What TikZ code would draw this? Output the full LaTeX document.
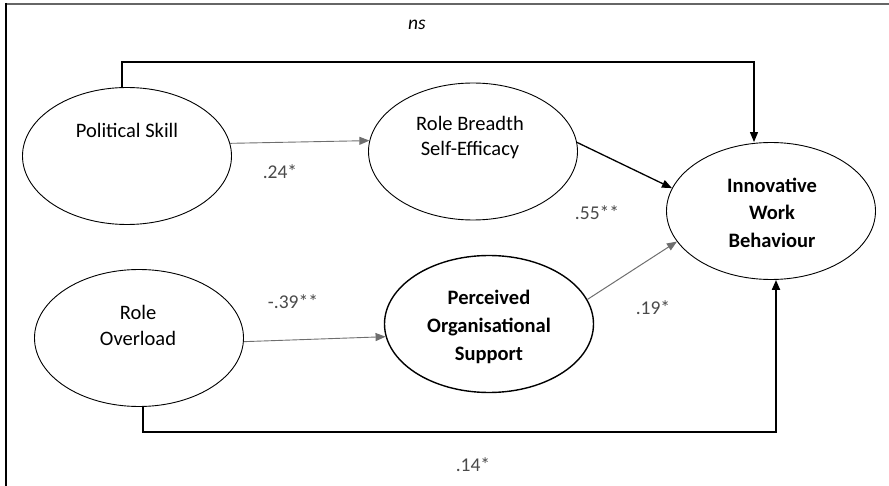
\documentclass[tikz,border=0pt]{standalone}
\usepackage{fontspec}
\setmainfont{Carlito}
\usetikzlibrary{arrows.meta,shapes.geometric}

\definecolor{framegray}{HTML}{666666}
\definecolor{coefgray}{HTML}{4A4A4A}
\definecolor{pathgray}{HTML}{6E6E6E}

\tikzset{
	latent/.style={ellipse,draw,line width=0.9pt,inner sep=0pt,
		minimum width=209pt,minimum height=137pt},
	txt/.style={align=center,font=\fontsize{20.5}{26}\selectfont},
	bold txt/.style={txt,font=\fontsize{20.5}{27.5}\selectfont\bfseries},
	coef/.style={text=coefgray,font=\fontsize{19.5}{22}\selectfont},
	tip/.style={-{Triangle[length=10pt,width=8pt]}},
	lightpath/.style={pathgray,line width=0.9pt},
	midpath/.style={pathgray,line width=1pt},
	strongpath/.style={line width=1.3pt},
	bar/.style={line width=2.8pt,line cap=rect}
}

\begin{document}
\begin{tikzpicture}[x=1pt,y=-1pt]
\useasboundingbox (0,0) rectangle (889,486);

% frame
\draw[framegray,line width=2.4pt] (5,4) -- (889,4);
\draw[line width=2pt] (6,3) -- (6,486);

% latent variables
\node[latent] (ps) at (127,156) {};
\node[latent] (rbse) at (473,151.5) {};
\node[latent] (ro) at (139,338) {};
\node[latent,line width=1.4pt] (pos) at (489,324) {};
\node[latent] (iwb) at (771,211) {};

\node[txt] (pst) at (127,130) {Political Skill};
\node[txt,font=\fontsize{20.5}{25}\selectfont] (rbset) at (470,137.5) {Role Breadth\\Self-Efficacy};
\node[txt] (rot) at (138,325) {Role\\Overload};
\node[bold txt,font=\fontsize{20.5}{28}\selectfont\bfseries] (post) at (489,327) {Perceived\\Organisational\\Support};
\node[bold txt] (iwbt) at (772,212.5) {Innovative\\Work\\Behaviour};

% direct paths
\foreach \a/\aa/\b/\bb/\sty in {ps/7/rbse/174/lightpath,
		ro/-2/pos/187/lightpath,
		rbse/5/iwb/167/strongpath,
		pos/14/iwb/198/midpath}
{
	\draw[tip,\sty] (\a.\aa) -- (\b.\bb);
};

% long paths
\coordinate (nsl) at (122,62);
\coordinate (nsr) at (754,62);
\coordinate (lol) at (143,432);
\coordinate (lor) at (776,432);

\draw[bar] (nsl |- ps.north) -- (nsl) -- (nsr);
\draw[tip,line width=1.2pt] (nsr) -- (nsr |- iwb.north);
\draw[bar] (lol |- ro.south) -- (lol) -- (lor);
\draw[tip,line width=2pt] (lor) -- (lor |- iwb.south);

% coefficients
\foreach \name/\x/\y/\val in {c1/280/172/.24*, c2/293/302/-.39**,
		c3/597/213/.55**, c4/653/308/.19*, c5/473/465/.14*}
{
	\node[coef] (\name) at (\x,\y) {\val};
};
\node[font=\fontsize{19.5}{22}\selectfont\itshape] (ns) at (417,25) {ns};

\end{tikzpicture}
\end{document}
